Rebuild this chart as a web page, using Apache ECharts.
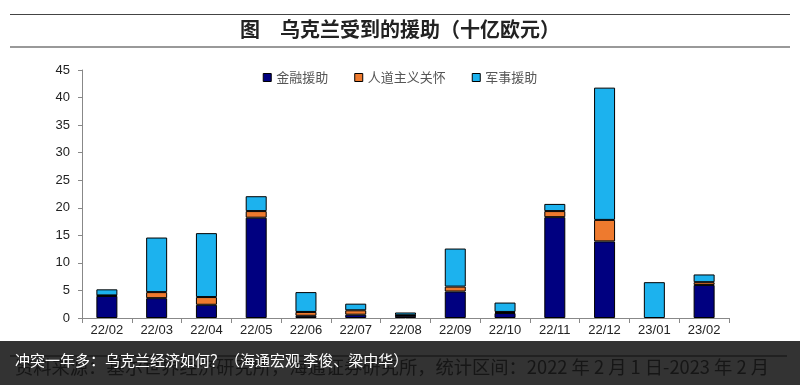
<!DOCTYPE html>
<html><head><meta charset="utf-8">
<script src="https://cdn.jsdelivr.net/npm/echarts@6/dist/echarts.min.js"></script>
<style>html,body{margin:0;padding:0;background:#fff}#c{width:800px;height:385px}</style>
</head><body><div id="c"></div>
<script>
var categories = ['22/02','22/03','22/04','22/05','22/06','22/07','22/08','22/09','22/10','22/11','22/12','23/01','23/02'];
var financial = [4.0, 3.6, 2.4, 18.2, 0.4, 0.6, 0.4, 4.8, 0.9, 18.3, 13.9, 0, 6.0];
var humanitarian = [0.1, 1.1, 1.4, 1.2, 0.7, 0.8, 0.1, 0.9, 0.2, 1.1, 3.9, 0, 0.5];
var military = [1.1, 9.9, 11.6, 2.7, 3.6, 1.2, 0.5, 6.9, 1.7, 1.3, 24.0, 6.5, 1.4];
var seriesNames = ['金融援助', '人道主义关怀', '军事援助'];
var yTicks = {min: 0, max: 45, interval: 5};
var titleText = '图　乌克兰受到的援助（十亿欧元）';
var sourceText = '资料来源：基尔世界经济研究所，海通证券研究所，统计区间：2022 年 2 月 1 日-2023 年 2 月';
var captionText = '冲突一年多：乌克兰经济如何？（海通宏观 李俊、梁中华）';

var colors = ['#000080', '#EE7A2E', '#1CB2EE'];
var cjk = '"Noto Sans CJK SC", sans-serif';
var chart = echarts.init(document.getElementById('c'), null, {renderer: 'canvas'});
function mk(name, data, i) {
  return {
    name: name, type: 'bar', stack: 'total',
    data: data.map(function (v) { return v === 0 ? '-' : v; }), barWidth: 21,
    itemStyle: {color: colors[i], borderColor: '#000', borderWidth: 1},
    emphasis: {disabled: true}
  };
}
chart.setOption({
  animation: false,
  grid: {left: 82, right: 71, top: 70, bottom: 67},
  legend: {
    top: 66, left: 'center', itemWidth: 8, itemHeight: 8, itemGap: 26,
    icon: 'rect',
    textStyle: {fontFamily: cjk, fontSize: 13, color: '#555'},
    data: seriesNames.map(function (n, i) {
      return {name: n, itemStyle: {color: colors[i], borderColor: '#000', borderWidth: 1}};
    })
  },
  xAxis: {
    type: 'category', data: categories,
    axisLine: {lineStyle: {color: '#888', width: 1}},
    axisTick: {show: true, length: 5, lineStyle: {color: '#888'}},
    axisLabel: {fontFamily: 'Liberation Sans, Arial', fontSize: 13, color: '#222', margin: 6, interval: 0}
  },
  yAxis: {
    type: 'value', min: yTicks.min, max: yTicks.max, interval: yTicks.interval,
    splitLine: {show: false},
    axisLine: {show: true, lineStyle: {color: '#888'}},
    axisTick: {show: true, length: 4, lineStyle: {color: '#888'}},
    axisLabel: {fontFamily: 'Liberation Sans, Arial', fontSize: 13, color: '#222', margin: 12}
  },
  series: [mk(seriesNames[0], financial, 0), mk(seriesNames[1], humanitarian, 1), mk(seriesNames[2], military, 2)],
  graphic: [
    {type: 'line', shape: {x1: 10, y1: 14.5, x2: 790, y2: 14.5}, style: {stroke: '#444', lineWidth: 1}},
    {type: 'text', left: 'center', top: 19, style: {text: titleText, font: 'bold 20px ' + cjk, fill: '#222'}},
    {type: 'line', shape: {x1: 10, y1: 47, x2: 790, y2: 47}, style: {stroke: '#999', lineWidth: 2}},
    {type: 'rect', shape: {x: 0, y: 341, width: 800, height: 44}, style: {fill: '#333333'}},
    {type: 'line', shape: {x1: 10, y1: 356, x2: 787, y2: 356}, style: {stroke: '#111', lineWidth: 1}},
    {type: 'text', left: 15, top: 358, style: {text: sourceText, font: '18.3px ' + cjk, fill: '#161616'}},
    {type: 'text', left: 15, top: 353, style: {text: captionText, font: '15px ' + cjk, fill: '#ffffff'}}
  ]
});
</script></body></html>
